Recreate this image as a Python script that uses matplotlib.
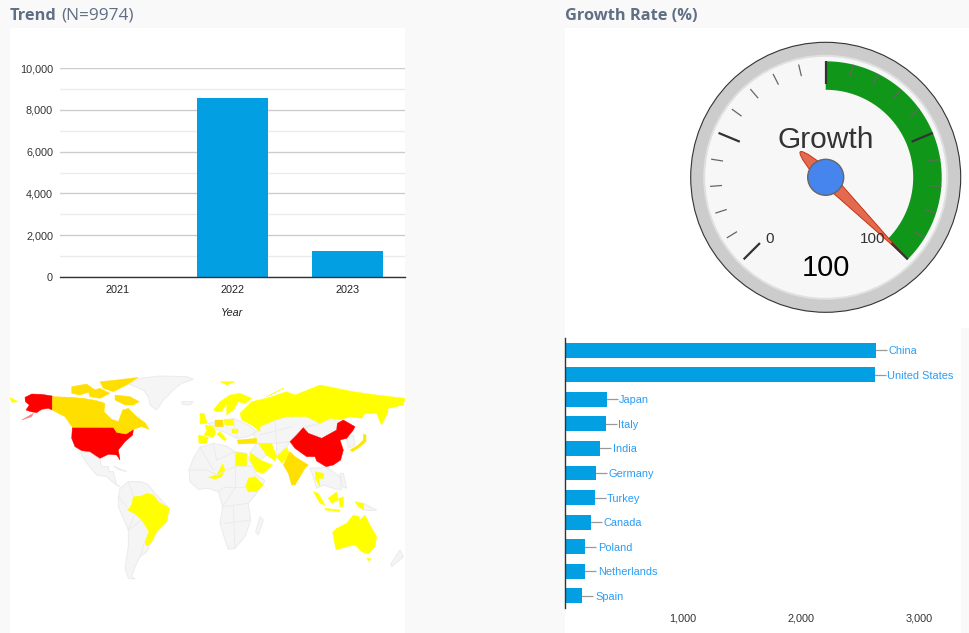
"""Dashboard: yearly trend, growth gauge, world map, top countries"""
import numpy as np
import matplotlib
matplotlib.use('Agg')
import matplotlib.pyplot as plt
from matplotlib.patches import Circle, Rectangle, Polygon, PathPatch
from matplotlib.path import Path

W, H = 969, 633
BG = '#f9f9f9'
BLUE = '#039fe3'
plt.rcParams['font.family'] = 'Liberation Sans'

years = ['2021', '2022', '2023']
year_counts = [20, 8565, 1245]
year_ticks = [0, 2000, 4000, 6000, 8000, 10000]

countries = ['China', 'United States', 'Japan', 'Italy', 'India', 'Germany',
             'Turkey', 'Canada', 'Poland', 'Netherlands', 'Spain']
country_counts = [2628, 2620, 352, 343, 300, 266, 250, 224, 173, 173, 148]
country_ticks = [1000, 2000, 3000]

gauge_min, gauge_max, gauge_value = 0, 100, 100
green_from, green_to = 50, 100

# map outlines, traced on a 1230x690 canvas
RED, YEL, ORG, AMB = '#ff0000', '#ffff00', '#ffdf00', '#ffe600'
gray_shapes = [
    [(385,72),(420,55),(480,48),(560,50),(580,58),(545,70),(525,85),(490,120),(470,150),(450,135),(445,110),(430,90)],
    [(545,125),(580,125),(570,135),(548,133)],
    [(240,275),(270,277),(300,297),(305,320),(325,320),(328,335),(340,335),(350,375),(360,380),(345,372),(320,350),(290,345),(265,315),(248,290)],
    [(340,318),(380,335),(355,328)],
    [(360,385),(385,365),(425,365),(445,375),(465,400),(508,445),(500,485),(470,515),(455,545),(440,575),(420,590),(405,620),(395,650),(405,657),(385,655),(375,625),(385,560),(385,510),(355,440),(355,410)],
    [(600,262),(640,250),(680,258),(705,275),(740,280),(760,320),(770,345),(795,362),(770,400),(745,430),(752,480),(735,530),(705,565),(685,568),(672,530),(660,490),(668,440),(655,395),(625,385),(595,388),(570,365),(567,330),(580,295)],
    [(780,470),(790,480),(775,525),(767,515)],
    [(625,190),(700,175),(745,195),(770,215),(745,230),(710,235),(690,225),(670,215),(640,205)],
    [(780,200),(825,180),(860,170),(920,170),(960,190),(910,202),(870,245),(830,250),(775,250),(760,225)],
    [(830,250),(870,245),(860,262),(830,290)],
    [(770,250),(775,250),(800,285),(780,300),(750,278)],
    [(925,200),(960,190),(990,178),(1020,185),(1010,210),(965,235),(925,220),(912,205)],
    [(930,325),(980,322),(1020,350),(1025,390),(1000,385),(970,375),(950,385),(940,350)],
    [(1020,340),(1030,340),(1040,385),(1028,380)],
    [(1090,430),(1130,450),(1110,452),(1090,450)],
    [(1200,570),(1210,590),(1175,620),(1172,612)],
    [(1040,235),(1060,225),(1065,255),(1045,265)],
]
color_shapes = [
    ([(75,112),(95,102),(125,103),(157,108),(157,150),(145,145),(125,148),(110,158),(92,155),(78,150),(88,135),(76,125)], RED),
    ([(100,160),(65,180),(95,170)], '#ff8080'),
    ([(217,202),(340,202),(350,217),(378,222),(400,208),(398,225),(375,245),(355,270),(360,300),(350,285),(325,283),(300,295),(270,275),(245,272),(225,260),(215,235)], RED),
    ([(157,110),(215,112),(250,115),(290,122),(315,130),(312,155),(335,178),(355,185),(368,150),(385,145),(410,170),(435,188),(447,208),(425,200),(400,208),(378,222),(350,217),(340,202),(217,202),(195,170),(175,160),(157,150)], ORG),
    ([(345,105),(390,110),(418,125),(400,135),(375,135),(345,120)], ORG),
    ([(215,80),(260,72),(285,90),(240,105),(215,100)], ORG),
    ([(265,95),(300,85),(330,100),(300,115),(270,110)], ORG),
    ([(300,65),(350,60),(415,52),(380,75),(340,95),(310,85)], ORG),
    ([(30,112),(55,125),(35,127)], YEL),
    ([(383,450),(395,435),(400,410),(425,408),(440,400),(460,405),(475,425),(508,445),(500,485),(470,515),(455,545),(440,558),(435,545),(447,515),(425,480),(405,462)], YEL),
    ([(625,352),(650,345),(668,312),(675,330),(665,350),(645,357)], YEL),
    ([(745,355),(765,350),(790,375),(770,395),(745,395),(737,380)], YEL),
    ([(707,278),(740,280),(740,318),(707,318)], YEL),
    ([(750,278),(780,300),(818,315),(790,340),(770,335),(750,300)], YEL),
    ([(775,250),(815,250),(830,290),(825,303),(800,285)], YEL),
    ([(830,290),(860,262),(870,285),(845,310)], YEL),
    ([(712,240),(770,235),(770,250),(715,252)], AMB),
    ([(720,160),(755,125),(810,112),(860,95),(885,105),(960,75),(1060,95),(1130,105),(1215,115),(1210,135),(1165,145),(1140,185),(1130,160),(1095,160),(1085,175),(1050,170),(1020,180),(990,175),(960,190),(920,170),(860,170),(825,180),(780,200),(780,215),(755,195),(725,180)], YEL),
    ([(870,245),(890,225),(910,203),(925,220),(965,235),(1010,210),(1012,190),(1030,180),(1065,200),(1060,210),(1040,235),(1020,240),(1030,270),(1022,300),(1000,315),(978,320),(950,303),(945,290),(920,290),(885,265)], RED),
    ([(850,315),(870,275),(885,290),(925,315),(915,325),(885,375),(875,375),(865,340)], ORG),
    ([(945,335),(970,340),(970,355),(955,355),(960,380),(948,360)], YEL),
    ([(940,395),(955,400),(975,435),(960,430)], YEL),
    ([(985,415),(1010,395),(1015,420),(995,430)], YEL),
    ([(975,445),(1020,450),(1020,455),(975,450)], YEL),
    ([(1016,415),(1030,410),(1030,440),(1020,440)], YEL),
    ([(1065,425),(1090,430),(1090,450),(1075,440)], YEL),
    ([(998,517),(1010,505),(1040,490),(1060,465),(1078,470),(1080,480),(1095,465),(1110,495),(1130,530),(1125,560),(1105,582),(1085,575),(1065,555),(1040,560),(1008,570),(1003,545)], YEL),
    ([(1100,595),(1112,595),(1108,605)], YEL),
    ([(1050,270),(1075,255),(1090,240),(1090,222),(1098,225),(1098,245),(1078,262),(1058,275)], AMB),
    ([(1140,185),(1160,145),(1165,155),(1145,195)], YEL),
    ([(640,150),(660,125),(690,105),(720,100),(755,115),(735,130),(715,125),(700,150),(680,165),(680,130),(665,155),(650,155)], YEL),
    ([(595,225),(625,232),(620,250),(597,250)], YEL),
    ([(615,195),(640,200),(648,218),(640,232),(612,225),(620,212)], YEL),
    ([(645,180),(668,180),(670,200),(645,200)], ORG),
    ([(672,178),(700,178),(702,195),(675,195)], YEL),
    ([(650,222),(660,215),(680,238),(672,242)], YEL),
    ([(600,160),(612,160),(622,190),(600,192)], YEL),
    ([(695,208),(715,208),(715,220),(695,220)], YEL),
    ([(660,65),(705,65),(680,75)], YEL),
    ([(800,110),(850,85),(810,105)], YEL),
]
border_lines = [
    [(567,330),(620,330),(650,345),(705,320)], [(600,262),(640,330)], [(705,275),(707,380),(668,440)],
    [(668,440),(745,430)], [(672,490),(752,480)], [(675,380),(737,380)], [(655,395),(675,380)],
    [(385,510),(425,480)], [(405,462),(385,510)], [(420,590),(435,545)], [(707,318),(760,320)],
    [(700,440),(705,565)], [(640,250),(650,300),(705,275)], [(380,440),(355,410)], [(400,410),(385,365)],
    [(825,180),(830,250)], [(875,200),(780,225)], [(700,175),(710,235)],
]


def ax_px(x0, y0, x1, y1):
    return fig.add_axes([x0 / W, 1 - y1 / H, (x1 - x0) / W, (y1 - y0) / H])


def clean(ax):
    for s in ax.spines.values():
        s.set_visible(False)


fig = plt.figure(figsize=(W / 100, H / 100), dpi=100, facecolor=BG)

# page layer in pixel coords
page = fig.add_axes([0, 0, 1, 1], zorder=0)
page.set_xlim(0, W); page.set_ylim(H, 0); page.axis('off')
for x, y, w, h in [(10, 28, 395, 605), (565, 28, 404, 300), (565, 328, 396, 305)]:
    page.add_patch(Rectangle((x, y), w, h, fc='white', ec='none'))

title_col = '#5f6f84'
page.text(10, 16, 'Trend', fontsize=11.8, fontweight='bold', color=title_col, family='Open Sans', va='center')
page.text(61, 16, '(N=9974)', fontsize=12.4, color=title_col, family='Open Sans', va='center')
page.text(565, 16, 'Growth Rate (%)', fontsize=11.8, fontweight='bold', color=title_col, family='Open Sans', va='center')

# trend columns
ax = ax_px(60, 68, 405, 277)
clean(ax)
ax.bar(range(3), year_counts, width=0.62, color=BLUE, zorder=3)
ax.set_xlim(-0.5, 2.5); ax.set_ylim(0, 10000)
ax.set_yticks(year_ticks); ax.set_yticklabels([f'{v:,}' for v in year_ticks], fontsize=7.8, color='#333')
ax.set_yticks(np.arange(1000, 10000, 2000), minor=True)
ax.grid(axis='y', which='major', color='#cccccc', lw=1, zorder=1)
ax.grid(axis='y', which='minor', color='#ebebeb', lw=1, zorder=1)
ax.set_xticks(range(3)); ax.set_xticklabels(years, fontsize=7.8, color='#222')
ax.tick_params(which='both', length=0)
ax.tick_params(axis='x', pad=6)
ax.tick_params(axis='y', pad=5)
ax.spines['bottom'].set_visible(True); ax.spines['bottom'].set_color('#333'); ax.spines['bottom'].set_linewidth(1)
ax.spines['bottom'].set_zorder(4)
ax.patch.set_alpha(0)
ax.set_xlabel('Year', fontsize=7.8, style='italic', color='#222', labelpad=9)

# world map
m = ax_px(0, 360, 410, 590)
m.set_xlim(0, 1230); m.set_ylim(690, 0); m.axis('off')
for pts in gray_shapes:
    m.add_patch(Polygon(pts, fc='#f5f5f5', ec='#ebebeb', lw=0.7))
for pts in border_lines:
    xs, ys = zip(*pts)
    m.plot(xs, ys, color='#ebebeb', lw=0.7)
for pts, col in color_shapes:
    m.add_patch(Polygon(pts, fc=col, ec=col, lw=0.3))

# country bars
b = ax_px(565, 338, 961, 608)
clean(b)
b.set_ylim(10.5, -0.5); b.set_xlim(0, 396 / 118.2 * 1000)
b.set_yticks([])
b.set_xticks(country_ticks); b.set_xticklabels([f'{v:,}' for v in country_ticks], fontsize=7.8, color='#333')
b.tick_params(axis='x', length=0, pad=4)
b.spines['left'].set_visible(True); b.spines['left'].set_color('#333'); b.spines['left'].set_linewidth(1)
b.patch.set_alpha(0)
for i, (name, v) in enumerate(zip(countries, country_counts)):
    # leader runs under the bar so it always touches the bar end
    b.plot([0, v + 11 / 118.2 * 1000], [i, i], color='#999999', lw=0.9, solid_capstyle='butt', zorder=1)
    b.annotate(name, xy=(v, i), xytext=(9, -0.7), textcoords='offset points', va='center', ha='left',
               fontsize=7.9, color='#2a9df4', annotation_clip=False)
b.barh(range(11), country_counts, height=0.61, color=BLUE, zorder=2)
b.set_ylim(10.5, -0.5)

# gauge
CX, CY = 825.7, 177.3
g = fig.add_axes([0, 0, 1, 1], zorder=3)
g.set_xlim(0, W); g.set_ylim(H, 0); g.axis('off')
g.add_patch(Circle((CX, CY), 135, fc='#cccccc', ec='#333333', lw=0.8))
g.add_patch(Circle((CX, CY), 122.5, fc='#e0e0e0', ec='none'))
g.add_patch(Circle((CX, CY), 120.5, fc='#f7f7f7', ec='none'))


def ang(v):
    # gauge sweeps 270 degrees, angle measured clockwise from 12 o'clock
    return np.radians(-135 + 270 * (v - gauge_min) / (gauge_max - gauge_min))


def pol(r, a):
    return CX + r * np.sin(a), CY - r * np.cos(a)


aa = np.linspace(ang(green_from), ang(green_to), 80)
ox, oy = pol(116, aa)
ix, iy = pol(87.5, aa[::-1])
g.add_patch(Polygon(np.column_stack([np.r_[ox, ix], np.r_[oy, iy]]), fc='#109618', ec='none'))

for k in range(21):
    a = ang(gauge_min + k * 5)
    major = k % 5 == 0
    x0, y0 = pol(116, a)
    x1, y1 = pol(93 if major else 104, a)
    g.plot([x0, x1], [y0, y1], color='#333333' if major else '#666666', lw=1.6 if major else 0.9,
           solid_capstyle='butt')

g.text(CX, 140, 'Growth', fontsize=21.5, color='#333333', ha='center', va='center')
g.text(770, 239, str(gauge_min), fontsize=11, color='#333333', ha='center', va='center')
g.text(873, 239, str(gauge_max), fontsize=11, color='#333333', ha='center', va='center')
g.text(CX, 268, str(gauge_value), fontsize=21, color='black', ha='center', va='center')

# needle, built along its own axis then rotated
a = ang(gauge_value)
ca, sa = np.cos(a), np.sin(a)
local = [(0, 116), (-1.5, 80), (-5, 30), (-7, 0), (-7, -15), (-3.5, -36), (0, -36),
         (3.5, -36), (7, -15), (7, 0), (5, 30), (1.5, 80), (0, 116)]
codes = [Path.MOVETO] + [Path.CURVE4] * 12
verts = [(CX + u * ca + v * sa, CY + u * sa - v * ca) for u, v in local]
g.add_patch(PathPatch(Path(verts, codes), fc='#e36a4f', ec='#c63310', lw=0.7))
g.add_patch(Circle((CX, CY), 18, fc='#4684ee', ec='#666666', lw=1))

fig.savefig('out.png', dpi=100, facecolor=BG)
